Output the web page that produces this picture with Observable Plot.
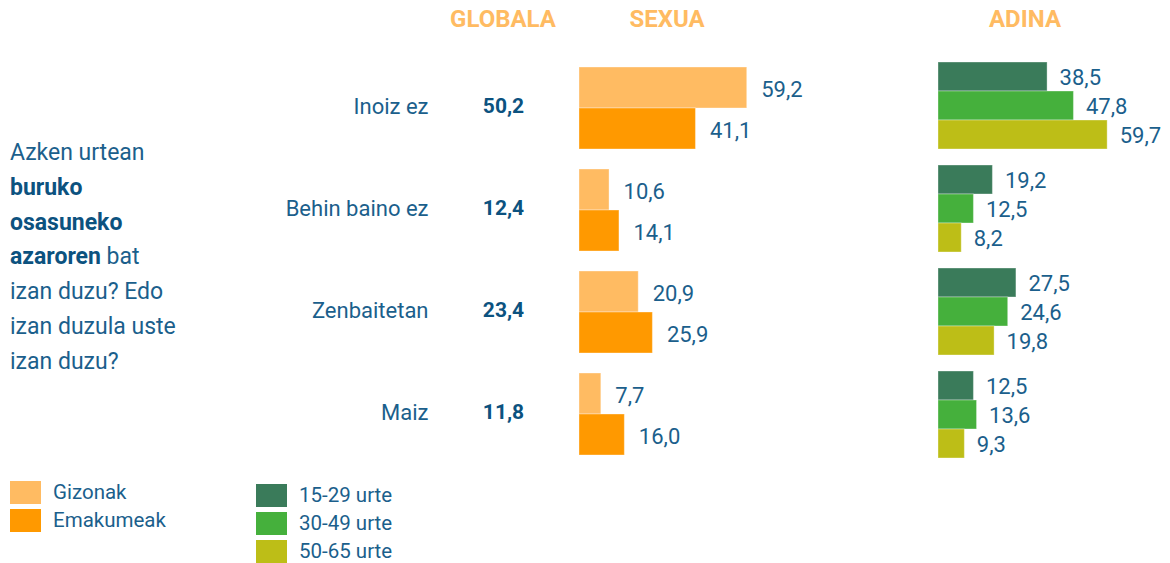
<!DOCTYPE html>
<html>
<head>
<meta charset="utf-8">
<script src="https://cdn.jsdelivr.net/npm/d3@7"></script>
<script src="https://cdn.jsdelivr.net/npm/@observablehq/plot@0.6"></script>
<style>
  html, body { margin: 0; padding: 0; background: #fff; }
  #wrap { position: relative; width: 1170px; height: 563px; font-family: Roboto, "Noto Sans", sans-serif; color: #1b5f8c; overflow: hidden; }
  .abs { position: absolute; }
  .hdr { font-weight: 700; font-size: 24px; color: #ffbb62; transform: translateX(-50%); top: 5px; white-space: nowrap; }
  .question { left: 10px; top: 136px; font-size: 23px; line-height: 34.8px; color: #1b5f8c; }
  .question b { color: #0c527f; }
  .leg { display: flex; align-items: center; font-size: 20.5px; color: #1b5f8c; height: 28px; }
  .sw { width: 31px; height: 23px; margin-right: 12px; }
</style>
</head>
<body>
<div id="wrap"></div>
<script>
const categories = ["Inoiz ez", "Behin baino ez", "Zenbaitetan", "Maiz"];
const globalValues = [50.2, 12.4, 23.4, 11.8];
const sexSeries = ["Gizonak", "Emakumeak"];
const gizonak = [59.2, 10.6, 20.9, 7.7];
const emakumeak = [41.1, 14.1, 25.9, 16.0];
const ageSeries = ["15-29 urte", "30-49 urte", "50-65 urte"];
const age15_29 = [38.5, 19.2, 27.5, 12.5];
const age30_49 = [47.8, 12.5, 24.6, 13.6];
const age50_65 = [59.7, 8.2, 19.8, 9.3];
const sexColors = ["#ffbb62", "#ff9900"];
const ageColors = ["#3a7b5a", "#45b03c", "#bdbe17"];
const headers = ["GLOBALA", "SEXUA", "ADINA"];

const fmt = v => v.toFixed(1).replace(".", ",");
const textBlue = "#1b5f8c";
const wrap = document.getElementById("wrap");

const sexData = [];
categories.forEach((c, i) => {
  sexData.push({cat: c, series: sexSeries[0], value: gizonak[i]});
  sexData.push({cat: c, series: sexSeries[1], value: emakumeak[i]});
});
const ageData = [];
categories.forEach((c, i) => {
  ageData.push({cat: c, series: ageSeries[0], value: age15_29[i]});
  ageData.push({cat: c, series: ageSeries[1], value: age30_49[i]});
  ageData.push({cat: c, series: ageSeries[2], value: age50_65[i]});
});
const globalData = categories.map((c, i) => ({cat: c, value: globalValues[i]}));

// Sex panel (also holds category labels and global values)
const sexPlot = Plot.plot({
  width: 860,
  height: 563,
  marginLeft: 579,
  marginRight: 111,
  marginTop: 65,
  marginBottom: 107,
  style: {background: "transparent", fontFamily: "Roboto, 'Noto Sans', sans-serif", overflow: "visible"},
  x: {domain: [0, 60], axis: null},
  y: {domain: sexSeries, padding: 0, axis: null},
  fy: {domain: categories, paddingInner: 0.2, paddingOuter: 0, label: null},
  color: {domain: sexSeries, range: sexColors},
  marks: [
    Plot.axisFy({anchor: "left", tickSize: 0, tickPadding: 151, fontSize: 22, fill: textBlue, label: null, dy: -2}),
    Plot.barX(sexData, {fy: "cat", y: "series", x: "value", fill: "series", stroke: "#ffffff", strokeOpacity: 0.35, strokeWidth: 1}),
    Plot.text(sexData, {fy: "cat", y: "series", x: "value", text: d => fmt(d.value), textAnchor: "start", dx: 14, dy: 2, fontSize: 22, fill: textBlue}),
    Plot.text(globalData, {fy: "cat", text: d => fmt(d.value), frameAnchor: "left", textAnchor: "middle", dx: -76, dy: -2, fontSize: 21, fontWeight: 700, fill: "#0c527f"})
  ]
});
sexPlot.style.position = "absolute";
sexPlot.style.left = "0px";
sexPlot.style.top = "0px";
wrap.appendChild(sexPlot);

// Age panel
const agePlot = Plot.plot({
  width: 310,
  height: 563,
  marginLeft: 78,
  marginRight: 62,
  marginTop: 61,
  marginBottom: 105,
  style: {background: "transparent", fontFamily: "Roboto, 'Noto Sans', sans-serif", overflow: "visible"},
  x: {domain: [0, 60], axis: null},
  y: {domain: ageSeries, padding: 0, axis: null},
  fy: {domain: categories, paddingInner: 0.146, paddingOuter: 0, axis: null},
  color: {domain: ageSeries, range: ageColors},
  marks: [
    Plot.barX(ageData, {fy: "cat", y: "series", x: "value", fill: "series", stroke: "#ffffff", strokeOpacity: 0.35, strokeWidth: 1}),
    Plot.text(ageData, {fy: "cat", y: "series", x: "value", text: d => fmt(d.value), textAnchor: "start", dx: 12, dy: 1, fontSize: 22, fill: textBlue})
  ]
});
agePlot.style.position = "absolute";
agePlot.style.left = "860px";
agePlot.style.top = "0px";
wrap.appendChild(agePlot);

// Column headers
const hdrX = [503, 667, 1025];
headers.forEach((h, i) => {
  const d = document.createElement("div");
  d.className = "abs hdr";
  d.style.left = hdrX[i] + "px";
  d.textContent = h;
  wrap.appendChild(d);
});

// Question text
const q = document.createElement("div");
q.className = "abs question";
q.innerHTML = "Azken urtean<br><b>buruko</b><br><b>osasuneko</b><br><b>azaroren</b> bat<br>izan duzu? Edo<br>izan duzula uste<br>izan duzu?";
wrap.appendChild(q);

// Legends
function legend(items, colors, left, top) {
  const box = document.createElement("div");
  box.className = "abs";
  box.style.left = left + "px";
  box.style.top = top + "px";
  items.forEach((t, i) => {
    const row = document.createElement("div");
    row.className = "leg";
    const sw = document.createElement("div");
    sw.className = "sw";
    sw.style.background = colors[i];
    const tx = document.createElement("span");
    tx.textContent = t;
    row.appendChild(sw);
    row.appendChild(tx);
    box.appendChild(row);
  });
  wrap.appendChild(box);
}
legend(sexSeries, sexColors, 10, 478);
legend(ageSeries, ageColors, 256, 481);
</script>
</body>
</html>
